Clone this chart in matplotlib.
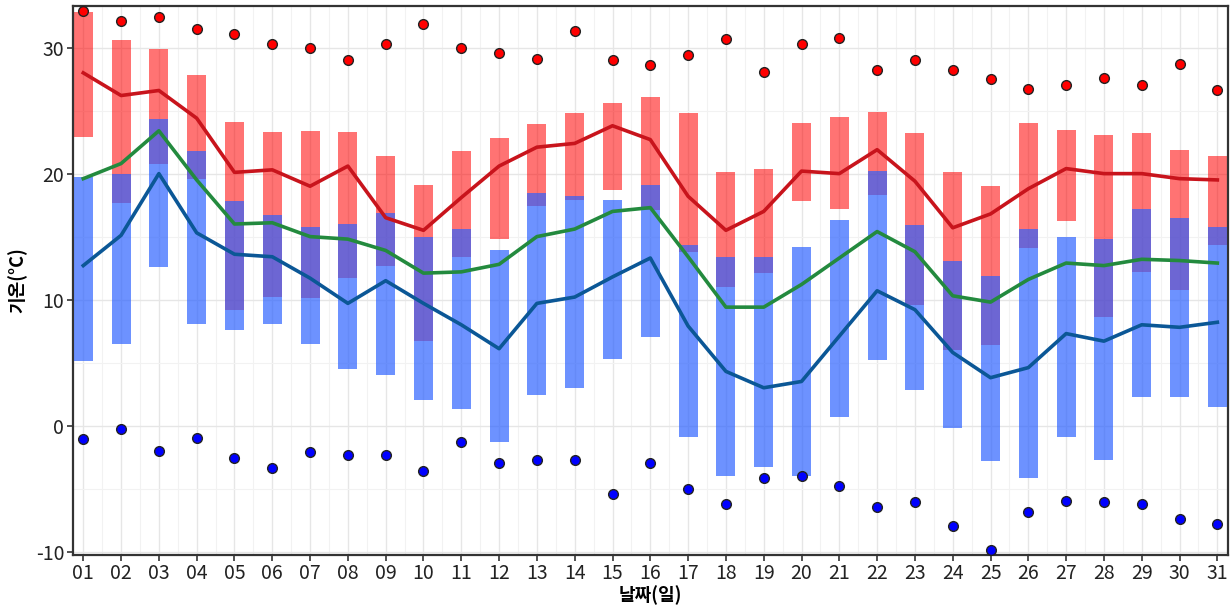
import matplotlib
matplotlib.use('Agg')
from matplotlib import pyplot as plt
from matplotlib.ticker import MultipleLocator
import numpy as np

plt.rcParams['font.family'] = ['Noto Sans CJK KR', 'DejaVu Sans']
plt.rcParams['axes.unicode_minus'] = False

days = ['%02d' % d for d in range(1, 32)]

# 최고기온 범위 (top, bottom)
max_top = [32.8, 30.6, 29.9, 27.8, 24.1, 23.3, 23.4, 23.3, 21.4, 19.1,
           21.8, 22.8, 23.9, 24.8, 25.6, 26.1, 24.8, 20.1, 20.4, 24.0,
           24.5, 24.9, 23.2, 20.1, 19.0, 24.0, 23.5, 23.1, 23.2, 21.9, 21.4]
max_bot = [22.9, 17.7, 20.8, 19.6, 9.2, 10.2, 10.1, 11.7, 12.7, 6.7,
           13.4, 14.8, 17.4, 17.9, 18.7, 17.1, 13.8, 11.0, 12.1, 17.8,
           17.2, 18.3, 9.6, 6.0, 6.4, 14.1, 16.2, 8.6, 12.2, 10.8, 14.3]
# 최저기온 범위 (top, bottom)
min_top = [19.7, 20.0, 24.3, 21.8, 17.8, 16.7, 15.8, 16.0, 16.9, 15.0,
           15.6, 13.9, 18.5, 18.2, 17.9, 19.1, 14.3, 13.4, 13.4, 14.2,
           16.3, 20.2, 15.9, 13.1, 11.9, 15.6, 15.0, 14.8, 17.2, 16.5, 15.8]
min_bot = [5.1, 6.5, 12.6, 8.1, 7.6, 8.1, 6.5, 4.5, 4.0, 2.0,
           1.3, -1.3, 2.4, 3.0, 5.3, 7.0, -0.9, -4.0, -3.3, -4.0,
           0.7, 5.2, 2.8, -0.2, -2.8, -4.2, -0.9, -2.7, 2.3, 2.3, 1.5]

# 평균 최고 / 평균 / 평균 최저
mean_max = [28.0, 26.2, 26.6, 24.4, 20.1, 20.3, 19.0, 20.6, 16.5, 15.5,
            18.1, 20.6, 22.1, 22.4, 23.8, 22.7, 18.2, 15.5, 17.0, 20.2,
            20.0, 21.9, 19.4, 15.7, 16.8, 18.8, 20.4, 20.0, 20.0, 19.6, 19.5]
mean_avg = [19.6, 20.8, 23.4, 19.5, 16.0, 16.1, 15.0, 14.8, 13.9, 12.1,
            12.2, 12.8, 15.0, 15.6, 17.0, 17.3, 13.4, 9.4, 9.4, 11.2,
            13.3, 15.4, 13.8, 10.3, 9.8, 11.6, 12.9, 12.7, 13.2, 13.1, 12.9]
mean_min = [12.7, 15.1, 20.0, 15.3, 13.6, 13.4, 11.7, 9.7, 11.5, 9.7,
            8.0, 6.1, 9.7, 10.2, 11.8, 13.3, 7.9, 4.3, 3.0, 3.5,
            7.1, 10.7, 9.2, 5.8, 3.8, 4.6, 7.3, 6.7, 8.0, 7.8, 8.2]

# 극값
rec_max = [32.9, 32.1, 32.4, 31.5, 31.1, 30.3, 30.0, 29.0, 30.3, 31.9,
           30.0, 29.6, 29.1, 31.3, 29.0, 28.6, 29.4, 30.7, 28.1, 30.3,
           30.8, 28.2, 29.0, 28.2, 27.5, 26.7, 27.0, 27.6, 27.0, 28.7, 26.6]
rec_min = [-1.1, -0.3, -2.0, -1.0, -2.6, -3.4, -2.1, -2.3, -2.3, -3.6,
           -1.3, -3.0, -2.7, -2.7, -5.4, -3.0, -5.0, -6.2, -4.2, -4.0,
           -4.8, -6.5, -6.1, -8.0, -9.9, -6.9, -6.0, -6.1, -6.2, -7.4, -7.8]

x = np.arange(1, 32)
max_top = np.array(max_top); max_bot = np.array(max_bot)
min_top = np.array(min_top); min_bot = np.array(min_bot)

fig = plt.figure(figsize=(12.32, 6.09), dpi=100)
ax = fig.add_axes([0.059, 0.089, 0.938, 0.901])

ax.bar(x, max_top - max_bot, bottom=max_bot, width=0.5,
       color=(1.0, 0.0, 0.0), alpha=0.55, zorder=2)
ax.bar(x, min_top - min_bot, bottom=min_bot, width=0.5,
       color=(0.17, 0.38, 1.0), alpha=0.69, zorder=3)

ax.plot(x, mean_max, color='#C8141C', lw=2.6, zorder=4)
ax.plot(x, mean_avg, color='#238A3E', lw=2.6, zorder=4)
ax.plot(x, mean_min, color='#0B5796', lw=2.6, zorder=4)

ax.plot(x, rec_max, 'o', ms=7, mfc='#FF0000', mec='#222222', mew=1.0, zorder=5)
ax.plot(x, rec_min, 'o', ms=7, mfc='#0000FF', mec='#222222', mew=1.0, zorder=5)

ax.set_xlim(0.72, 31.29)
ax.set_ylim(-10.26, 33.3)
ax.set_xticks(x)
ax.set_xticklabels(days)
ax.yaxis.set_major_locator(MultipleLocator(10))
ax.yaxis.set_minor_locator(MultipleLocator(5))
ax.xaxis.set_minor_locator(MultipleLocator(0.5))

ax.set_axisbelow(True)
ax.grid(which='major', color='#E6E6E6', lw=1.0)
ax.grid(which='minor', color='#F2F2F2', lw=0.8)
ax.tick_params(which='minor', length=0)
ax.tick_params(which='major', direction='out', length=4, width=1.2,
               color='#333333', labelsize=14, labelcolor='#222222', pad=2)

for s in ax.spines.values():
    s.set_linewidth(1.6)
    s.set_color('#333333')

ax.set_xlabel('날짜(일)', fontsize=13, fontweight='bold', labelpad=1)
ax.set_ylabel('기온(°C)', fontsize=13, fontweight='bold', labelpad=6)

plt.savefig('out.png', dpi=100)
